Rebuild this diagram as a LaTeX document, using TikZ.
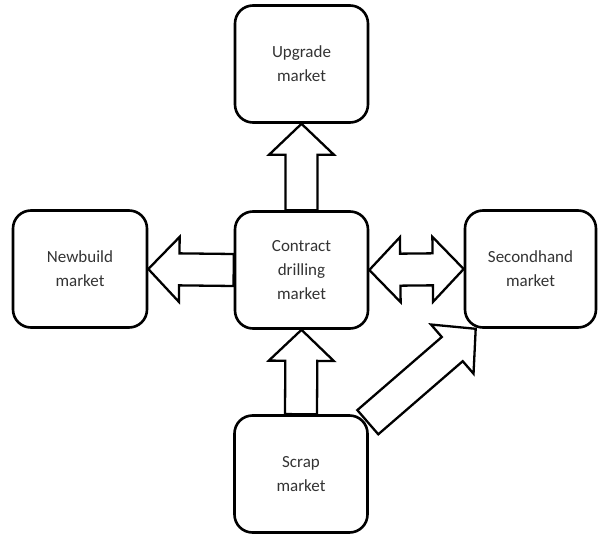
\documentclass[tikz,border=0pt]{standalone}
\usepackage{fontspec}
\setmainfont{Carlito}
\usetikzlibrary{calc}
\tikzset{
  market/.style={draw=black, line width=2.6pt, rounded corners=18pt, align=center,
    minimum width=133pt, minimum height=117pt, inner sep=0pt,
    font=\fontsize{17}{24}\selectfont, text=black!80},
  arrowline/.style={draw=black, line width=2.3pt, line join=miter, fill=white},
}
\def\ah{31pt}\def\aH{32.5pt}\def\aw{16pt}
\newcommand\blockarrow[2]{%
  \coordinate (bn) at ($(#2)!\ah!(#1)$);
  \draw[arrowline] ($(#1)!\aw!90:(#2)$) -- ($(bn)!\aw!90:(#2)$) -- ($(bn)!\aH!90:(#2)$)
    -- (#2) -- ($(bn)!\aH!-90:(#2)$) -- ($(bn)!\aw!-90:(#2)$) -- ($(#1)!\aw!-90:(#2)$) -- cycle;
}
\newcommand\dblockarrow[2]{%
  \coordinate (bn) at ($(#2)!\ah!(#1)$);
  \coordinate (bm) at ($(#1)!\ah!(#2)$);
  \draw[arrowline] (#1) -- ($(bm)!\aH!90:(#2)$) -- ($(bm)!\aw!90:(#2)$) -- ($(bn)!\aw!90:(#2)$) -- ($(bn)!\aH!90:(#2)$)
    -- (#2) -- ($(bn)!\aH!-90:(#2)$) -- ($(bn)!\aw!-90:(#2)$) -- ($(bm)!\aw!-90:(#2)$) -- ($(bm)!\aH!-90:(#2)$) -- cycle;
}
\begin{document}
\begin{tikzpicture}[x=1pt,y=-1pt]
\useasboundingbox (0,0) rectangle (598,536);
\node[market] (upgrade) at (301.5,64) {Upgrade\\market};
\node[market, minimum width=134pt] (newbuild) at (80,269) {Newbuild\\market};
\node[market] (contract) at (301.5,270) {Contract\\drilling\\market};
\node[market, minimum width=131pt] (secondhand) at (530.5,269) {Secondhand\\market};
\node[market] (scrap) at (301,474) {Scrap\\market};
\coordinate (diagtail) at ($(scrap.north east)+(-1,8)$);
\coordinate (diagtip) at ($(secondhand.south west)+(12,0)$);
\blockarrow{contract.north}{upgrade.south}
\blockarrow{contract.west}{newbuild.east}
\dblockarrow{contract.east}{secondhand.west}
\blockarrow{scrap.north}{contract.south}
\blockarrow{diagtail}{diagtip}
\end{tikzpicture}
\end{document}
